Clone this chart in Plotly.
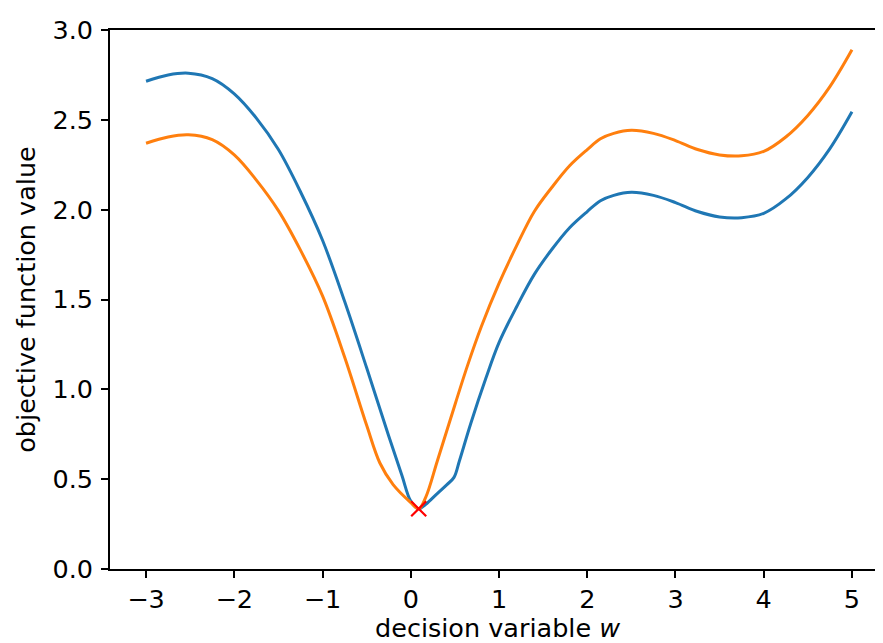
import plotly.graph_objects as go

# Blue curve
w_blue = [-3.0, -2.75, -2.52, -2.25, -2.0, -1.75, -1.5, -1.25, -1.0, -0.75, -0.5, -0.25, -0.1, 0.0,
          0.09, 0.17, 0.3, 0.41, 0.49, 0.55, 0.68, 0.85, 1.0, 1.2, 1.4, 1.6, 1.8, 2.0, 2.15, 2.3,
          2.5, 2.75, 3.0, 3.25, 3.5, 3.75, 4.0, 4.25, 4.5, 4.75, 5.0]
f_blue = [2.715, 2.75, 2.76, 2.73, 2.645, 2.51, 2.335, 2.10, 1.83, 1.49, 1.12, 0.74, 0.52, 0.378,
          0.335, 0.36, 0.42, 0.47, 0.51, 0.60, 0.81, 1.06, 1.26, 1.46, 1.64, 1.78, 1.90, 1.99, 2.05, 2.08,
          2.097, 2.08, 2.04, 1.99, 1.96, 1.956, 1.98, 2.06, 2.18, 2.34, 2.545]

# Orange curve
w_orange = [-3.0, -2.75, -2.52, -2.25, -2.0, -1.75, -1.5, -1.25, -1.0, -0.75, -0.5, -0.35, -0.2, 0.0,
            0.09, 0.17, 0.3, 0.45, 0.64, 0.8, 1.0, 1.2, 1.4, 1.6, 1.8, 2.0, 2.15, 2.3, 2.5, 2.75, 3.0,
            3.25, 3.5, 3.75, 4.0, 4.25, 4.5, 4.75, 5.0]
f_orange = [2.37, 2.405, 2.417, 2.39, 2.305, 2.165, 1.995, 1.775, 1.52, 1.18, 0.80, 0.59, 0.47, 0.37,
            0.335, 0.40, 0.60, 0.835, 1.128, 1.35, 1.59, 1.80, 1.99, 2.125, 2.245, 2.335, 2.395, 2.425, 2.442,
            2.425, 2.385, 2.335, 2.305, 2.30, 2.325, 2.405, 2.525, 2.685, 2.89]

# Minimum marker
min_w = [0.09]
min_f = [0.335]

x_ticks = [-3, -2, -1, 0, 1, 2, 3, 4, 5]
x_tick_text = ["\u22123", "\u22122", "\u22121", "0", "1", "2", "3", "4", "5"]
y_ticks = [0.0, 0.5, 1.0, 1.5, 2.0, 2.5, 3.0]
y_tick_text = ["0.0", "0.5", "1.0", "1.5", "2.0", "2.5", "3.0"]

fig = go.Figure()
fig.add_trace(go.Scatter(x=w_blue, y=f_blue, mode="lines",
                         line=dict(color="#1f77b4", width=3, shape="spline", smoothing=1.0),
                         showlegend=False))
fig.add_trace(go.Scatter(x=w_orange, y=f_orange, mode="lines",
                         line=dict(color="#ff7f0e", width=3, shape="spline", smoothing=1.0),
                         showlegend=False))
fig.add_trace(go.Scatter(x=min_w, y=min_f, mode="markers",
                         marker=dict(symbol="x-thin", size=15, color="red",
                                     line=dict(color="red", width=2.2)),
                         showlegend=False))

font_family = "DejaVu Sans"
fs = 25.5
fig.update_layout(
    width=883, height=643,
    margin=dict(l=102, r=7, t=14, b=82),
    paper_bgcolor="white", plot_bgcolor="white",
    font=dict(family=font_family, size=fs, color="black"),
    xaxis=dict(
        range=[-3.4085, 5.363], tickvals=x_ticks, ticktext=x_tick_text,
        showgrid=False, zeroline=False, showline=True, linecolor="black", linewidth=1.6,
        mirror=True, ticks="outside", ticklen=7, tickwidth=1.6, tickcolor="black",
        tickfont=dict(size=fs), ticklabelstandoff=0,
    ),
    yaxis=dict(
        range=[0, 3.0005], tickvals=y_ticks, ticktext=y_tick_text,
        showgrid=False, zeroline=False, showline=True, linecolor="black", linewidth=1.6,
        mirror=False, ticks="outside", ticklen=7, tickwidth=1.6, tickcolor="black",
        tickfont=dict(size=fs), ticklabelstandoff=3, ticklabeloverflow="allow",
        title=dict(text="objective function value", font=dict(size=fs), standoff=10),
    ),
    annotations=[dict(
        text="decision variable <i>w</i>", xref="paper", yref="paper", x=0.5, y=0,
        xanchor="center", yanchor="bottom", yshift=-75, borderpad=0, showarrow=False,
        font=dict(size=fs, family=font_family, color="black"),
    )],
)

fig.write_html("out.html")
